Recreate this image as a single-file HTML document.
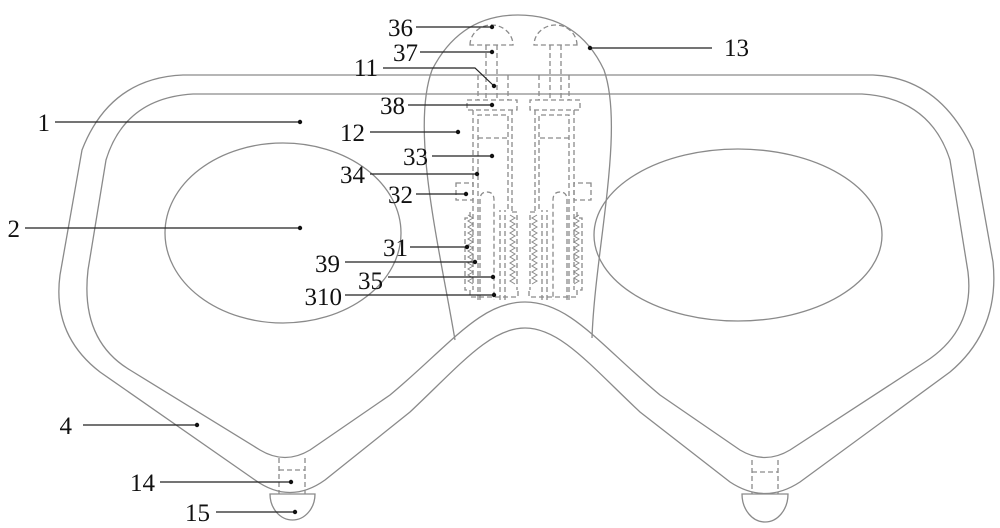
<!DOCTYPE html>
<html><head><meta charset="utf-8"><style>
html,body{margin:0;padding:0;background:#fff;}
svg{display:block;}
text{font-family:"Liberation Serif",serif;font-size:25px;fill:#111;}
</style></head><body>
<svg width="1000" height="528" viewBox="0 0 1000 528" xmlns="http://www.w3.org/2000/svg">
<g fill="none" stroke="#8a8a8a" stroke-width="1.3">
<!-- outer frame -->
<path d="M183,75 H873 Q940,78 973,150 L993,262 Q1000,330 950,372 L800,482 Q765,505 730,482 L640,412 C590,365 560,328 525,328 C490,328 460,365 410,412 L325,480 Q290,505 255,480 L100,372 Q52,335 60,275 L82,150 Q110,78 183,75 Z"/>
<!-- inner frame -->
<path d="M193,94 H862 Q930,98 950,160 L968,272 Q975,330 925,362 L790,450 Q765,465 740,450 L660,395 C600,345 570,302 525,302 C480,302 450,345 390,395 L310,450 Q285,465 260,450 L130,370 Q80,340 88,270 L106,160 Q125,98 193,94 Z"/>
<!-- lenses -->
<ellipse cx="283" cy="233" rx="118" ry="90"/>
<ellipse cx="738" cy="235" rx="144" ry="86"/>
<!-- bridge 13 -->
<path d="M455,340 C440,250 410,130 432,70 Q460,15 518,15 Q578,15 604,70 C625,130 595,250 592,338"/>
</g>
<!-- mechanisms -->
<g fill="none" stroke="#8a8a8a" stroke-width="1.3" stroke-dasharray="5,3">
<path d="M470,45 A21.5,20 0 0 1 513,45 Z"/>
<path d="M486,45 V100 M497,45 V100 M478,75 V100 M508,75 V100"/>
<rect x="467" y="100" width="50" height="10"/>
<path d="M473,110 V290 M512,110 V212"/>
<path d="M478,300 V115 H508 V212 M478,138 H508"/>
<rect x="456" y="183" width="17" height="17"/>
<path d="M470,212 V218 H465 V290 H470 V297 H518 V290 M512,212 H517 V290"/>
<path d="M480,300 V200 Q480,192 487,192 Q494,192 494,200 V300"/>
<path d="M500,300 V210 M505,300 V210"/>
</g>
<g fill="none" stroke="#8a8a8a" stroke-width="1">
<polyline points="468,215 473,218 468,221 473,224 468,227 473,230 468,233 473,236 468,239 473,242 468,245 473,248 468,251 473,254 468,257 473,260 468,263 473,266 468,269 473,272 468,275 473,278 468,281 473,284"/>
<polyline points="510,215 515,218 510,221 515,224 510,227 515,230 510,233 515,236 510,239 515,242 510,245 515,248 510,251 515,254 510,257 515,260 510,263 515,266 510,269 515,272 510,275 515,278 510,281 515,284"/>
</g>
<g transform="matrix(-1,0,0,1,1047,0)">
<g fill="none" stroke="#8a8a8a" stroke-width="1.3" stroke-dasharray="5,3">
<path d="M470,45 A21.5,20 0 0 1 513,45 Z"/>
<path d="M486,45 V100 M497,45 V100 M478,75 V100 M508,75 V100"/>
<rect x="467" y="100" width="50" height="10"/>
<path d="M473,110 V290 M512,110 V212"/>
<path d="M478,300 V115 H508 V212 M478,138 H508"/>
<rect x="456" y="183" width="17" height="17"/>
<path d="M470,212 V218 H465 V290 H470 V297 H518 V290 M512,212 H517 V290"/>
<path d="M480,300 V200 Q480,192 487,192 Q494,192 494,200 V300"/>
<path d="M500,300 V210 M505,300 V210"/>
</g>
<g fill="none" stroke="#8a8a8a" stroke-width="1">
<polyline points="468,215 473,218 468,221 473,224 468,227 473,230 468,233 473,236 468,239 473,242 468,245 473,248 468,251 473,254 468,257 473,260 468,263 473,266 468,269 473,272 468,275 473,278 468,281 473,284"/>
<polyline points="510,215 515,218 510,221 515,224 510,227 515,230 510,233 515,236 510,239 515,242 510,245 515,248 510,251 515,254 510,257 515,260 510,263 515,266 510,269 515,272 510,275 515,278 510,281 515,284"/>
</g>
</g>
<!-- caps -->
<g fill="none" stroke="#8a8a8a" stroke-width="1.3">
<path d="M270,494 H315 A22.5,26 0 0 1 270,494 Z"/>
<path d="M742,494 H788 A23,28 0 0 1 742,494 Z"/>
</g>
<g fill="none" stroke="#8a8a8a" stroke-width="1.3" stroke-dasharray="5,3">
<path d="M279,458 V494 M305,458 V494 M279,470 H305"/>
<path d="M752,460 V494 M778,460 V494 M752,472 H778"/>
</g>
<!-- leader lines -->
<g stroke="#222" stroke-width="1.2" fill="none">
<path d="M416,27 H492 M420,52 H492 M383,68 H475 L494,86 M408,105 H492 M370,132 H458 M432,156 H492 M370,174 H477 M416,194 H466 M410,247 H467 M345,262 H475 M388,277 H493 M345,295 H494 M590,48 H712 M55,122 H300 M25,228 H300 M83,425 H197 M160,482 H291 M216,512 H295"/>
</g>
<g fill="#111">
<circle cx="492" cy="27" r="2.2"/><circle cx="492" cy="52" r="2.2"/><circle cx="494" cy="86" r="2.2"/><circle cx="492" cy="105" r="2.2"/><circle cx="458" cy="132" r="2.2"/><circle cx="492" cy="156" r="2.2"/><circle cx="477" cy="174" r="2.2"/><circle cx="466" cy="194" r="2.2"/><circle cx="467" cy="247" r="2.2"/><circle cx="475" cy="262" r="2.2"/><circle cx="493" cy="277" r="2.2"/><circle cx="494" cy="295" r="2.2"/><circle cx="590" cy="48" r="2.2"/><circle cx="300" cy="122" r="2.2"/><circle cx="300" cy="228" r="2.2"/><circle cx="197" cy="425" r="2.2"/><circle cx="291" cy="482" r="2.2"/><circle cx="295" cy="512" r="2.2"/>
</g>
<g text-anchor="end">
<text x="413" y="36">36</text>
<text x="418" y="61">37</text>
<text x="378" y="76">11</text>
<text x="405" y="114">38</text>
<text x="365" y="141">12</text>
<text x="428" y="165">33</text>
<text x="365" y="183">34</text>
<text x="413" y="203">32</text>
<text x="408" y="256">31</text>
<text x="340" y="272">39</text>
<text x="383" y="289">35</text>
<text x="342" y="305">310</text>
<text x="50" y="131">1</text>
<text x="20" y="237">2</text>
<text x="72" y="434">4</text>
<text x="155" y="491">14</text>
<text x="210" y="521">15</text>
</g>
<text x="724" y="56">13</text>
</svg>
</body></html>
